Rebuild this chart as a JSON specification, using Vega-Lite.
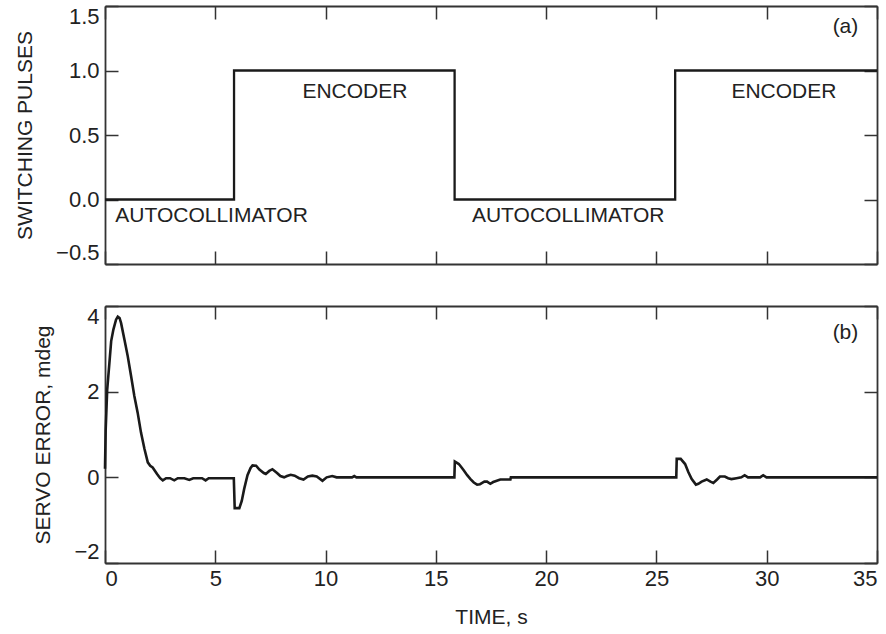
{
  "$schema": "https://vega.github.io/schema/vega-lite/v6.json",
  "padding": {"left": 14, "top": 5, "right": 6, "bottom": 6},
  "background": "white",
  "config": {
    "font": "Liberation Sans",
    "view": {"stroke": null},
    "axis": {
      "grid": false,
      "tickSize": -13,
      "tickWidth": 1.5,
      "tickColor": "#333333",
      "domainColor": "#333333",
      "domainWidth": 1.8,
      "labelFontSize": 22,
      "labelColor": "#222222",
      "titleFontSize": 21,
      "titleFontWeight": "normal",
      "titleColor": "#222222",
      "labelFlush": true
    },
    "concat": {"spacing": 40}
  },
  "datasets": {
    "pulses": [
      {"t": 0, "v": 0},
      {"t": 5.85, "v": 1},
      {"t": 15.85, "v": 0},
      {"t": 25.85, "v": 1},
      {"t": 35, "v": 1}
    ],
    "servo": [
      {"t": 0, "v": 0.2}, {"t": 0.03, "v": 1.1}, {"t": 0.1, "v": 2.05}, {"t": 0.2, "v": 2.67},
      {"t": 0.28, "v": 3.18}, {"t": 0.38, "v": 3.45}, {"t": 0.5, "v": 3.68}, {"t": 0.58, "v": 3.75},
      {"t": 0.66, "v": 3.72}, {"t": 0.73, "v": 3.6}, {"t": 0.88, "v": 3.22}, {"t": 1.03, "v": 2.83},
      {"t": 1.18, "v": 2.37}, {"t": 1.33, "v": 1.9}, {"t": 1.48, "v": 1.51}, {"t": 1.63, "v": 1.05},
      {"t": 1.79, "v": 0.66}, {"t": 1.94, "v": 0.35}, {"t": 2.05, "v": 0.27}, {"t": 2.16, "v": 0.23},
      {"t": 2.36, "v": 0.08}, {"t": 2.5, "v": -0.02}, {"t": 2.62, "v": -0.07}, {"t": 2.77, "v": -0.02},
      {"t": 2.95, "v": -0.02}, {"t": 3.14, "v": -0.07}, {"t": 3.3, "v": -0.02}, {"t": 3.6, "v": -0.02},
      {"t": 3.82, "v": -0.06}, {"t": 4.0, "v": -0.02}, {"t": 4.4, "v": -0.02}, {"t": 4.56, "v": -0.07},
      {"t": 4.7, "v": -0.02}, {"t": 5.84, "v": -0.02}, {"t": 5.88, "v": -0.72}, {"t": 6.09, "v": -0.72},
      {"t": 6.2, "v": -0.55}, {"t": 6.31, "v": -0.27}, {"t": 6.46, "v": 0.05}, {"t": 6.6, "v": 0.22},
      {"t": 6.69, "v": 0.28}, {"t": 6.85, "v": 0.27}, {"t": 7.0, "v": 0.18}, {"t": 7.2, "v": 0.1},
      {"t": 7.29, "v": 0.08}, {"t": 7.45, "v": 0.15}, {"t": 7.59, "v": 0.19}, {"t": 7.8, "v": 0.1},
      {"t": 7.95, "v": 0.03}, {"t": 8.12, "v": 0.0}, {"t": 8.25, "v": 0.03}, {"t": 8.42, "v": 0.06},
      {"t": 8.6, "v": 0.04}, {"t": 8.8, "v": -0.02}, {"t": 9.0, "v": -0.05}, {"t": 9.2, "v": 0.02},
      {"t": 9.4, "v": 0.04}, {"t": 9.6, "v": 0.02}, {"t": 9.86, "v": -0.08}, {"t": 10.05, "v": 0.0},
      {"t": 10.3, "v": 0.03}, {"t": 10.5, "v": 0.0}, {"t": 11.2, "v": 0.0}, {"t": 11.3, "v": 0.03},
      {"t": 11.4, "v": 0.0}, {"t": 15.84, "v": 0.0}, {"t": 15.86, "v": 0.37}, {"t": 16.04, "v": 0.31},
      {"t": 16.15, "v": 0.24}, {"t": 16.27, "v": 0.16}, {"t": 16.42, "v": 0.05}, {"t": 16.57, "v": -0.04},
      {"t": 16.72, "v": -0.12}, {"t": 16.87, "v": -0.17}, {"t": 17.0, "v": -0.16}, {"t": 17.1, "v": -0.13},
      {"t": 17.2, "v": -0.1}, {"t": 17.32, "v": -0.1}, {"t": 17.47, "v": -0.15}, {"t": 17.6, "v": -0.11},
      {"t": 17.7, "v": -0.09}, {"t": 17.92, "v": -0.05}, {"t": 18.38, "v": -0.05}, {"t": 18.4, "v": 0.0},
      {"t": 25.9, "v": 0.0}, {"t": 25.92, "v": 0.43}, {"t": 26.1, "v": 0.43}, {"t": 26.3, "v": 0.31},
      {"t": 26.45, "v": 0.12}, {"t": 26.6, "v": -0.04}, {"t": 26.79, "v": -0.17}, {"t": 26.9, "v": -0.15},
      {"t": 27.05, "v": -0.1}, {"t": 27.28, "v": -0.05}, {"t": 27.45, "v": -0.1}, {"t": 27.58, "v": -0.13},
      {"t": 27.75, "v": -0.05}, {"t": 27.88, "v": 0.02}, {"t": 28.1, "v": 0.02}, {"t": 28.25, "v": -0.02},
      {"t": 28.4, "v": -0.04}, {"t": 28.63, "v": -0.02}, {"t": 28.85, "v": 0.0}, {"t": 29.0, "v": 0.05},
      {"t": 29.15, "v": 0.0}, {"t": 29.7, "v": 0.0}, {"t": 29.84, "v": 0.05}, {"t": 29.99, "v": 0.0},
      {"t": 35, "v": 0.0}
    ],
    "labelsA": [
      {"t": 11.33, "v": 0.83, "label": "ENCODER"},
      {"t": 30.78, "v": 0.83, "label": "ENCODER"},
      {"t": 4.83, "v": -0.125, "label": "AUTOCOLLIMATOR"},
      {"t": 21.0, "v": -0.125, "label": "AUTOCOLLIMATOR"},
      {"t": 33.57, "v": 1.34, "label": "(a)"}
    ],
    "labelsB": [
      {"t": 33.57, "v": 3.37, "label": "(b)"}
    ]
  },
  "vconcat": [
    {
      "width": 772,
      "height": 258,
      "resolve": {"axis": {"x": "independent", "y": "independent"}},
      "layer": [
        {
          "data": {"name": "pulses"},
          "mark": {"type": "line", "interpolate": "step-after", "color": "#1a1a1a", "strokeWidth": 2.3},
          "encoding": {
            "x": {"field": "t", "type": "quantitative", "scale": {"domain": [0, 35], "nice": false, "zero": false},
                  "axis": {"orient": "bottom", "values": [0, 5, 10, 15, 20, 25, 30, 35], "labels": false, "title": null}},
            "y": {"field": "v", "type": "quantitative", "scale": {"domain": [-0.5, 1.5], "nice": false, "zero": false},
                  "axis": {"orient": "left", "values": [-0.5, 0, 0.5, 1, 1.5], "format": ".1f", "labelPadding": 19, "title": "SWITCHING PULSES", "titlePadding": 20}}
          }
        },
        {
          "data": {"name": "labelsA"},
          "mark": {"type": "text", "fontSize": 21, "color": "#222222", "align": "center", "baseline": "middle"},
          "encoding": {
            "x": {"field": "t", "type": "quantitative",
                  "axis": {"orient": "top", "values": [0, 5, 10, 15, 20, 25, 30, 35], "labels": false, "title": null}},
            "y": {"field": "v", "type": "quantitative",
                  "axis": {"orient": "right", "values": [-0.5, 0, 0.5, 1, 1.5], "labels": false, "title": null}},
            "text": {"field": "label"}
          }
        }
      ]
    },
    {
      "width": 772,
      "height": 257,
      "resolve": {"axis": {"x": "independent", "y": "independent"}},
      "layer": [
        {
          "data": {"name": "servo"},
          "mark": {"type": "line", "color": "#1a1a1a", "strokeWidth": 2.6},
          "encoding": {
            "x": {"field": "t", "type": "quantitative", "scale": {"domain": [0, 35], "nice": false, "zero": false},
                  "axis": {"orient": "bottom", "values": [0, 5, 10, 15, 20, 25, 30, 35], "labelPadding": 18, "title": "TIME, s", "titlePadding": 17}},
            "y": {"field": "v", "type": "quantitative", "scale": {"domain": [-2, 4], "nice": false, "zero": false},
                  "axis": {"orient": "left", "values": [-2, 0, 2, 4], "format": "d", "labelPadding": 19, "title": "SERVO ERROR, mdeg", "titlePadding": 20}}
          }
        },
        {
          "data": {"name": "labelsB"},
          "mark": {"type": "text", "fontSize": 21, "color": "#222222", "align": "center", "baseline": "middle"},
          "encoding": {
            "x": {"field": "t", "type": "quantitative",
                  "axis": {"orient": "top", "values": [0, 5, 10, 15, 20, 25, 30, 35], "labels": false, "title": null}},
            "y": {"field": "v", "type": "quantitative",
                  "axis": {"orient": "right", "values": [-2, 0, 2, 4], "labels": false, "title": null}},
            "text": {"field": "label"}
          }
        }
      ]
    }
  ]
}
